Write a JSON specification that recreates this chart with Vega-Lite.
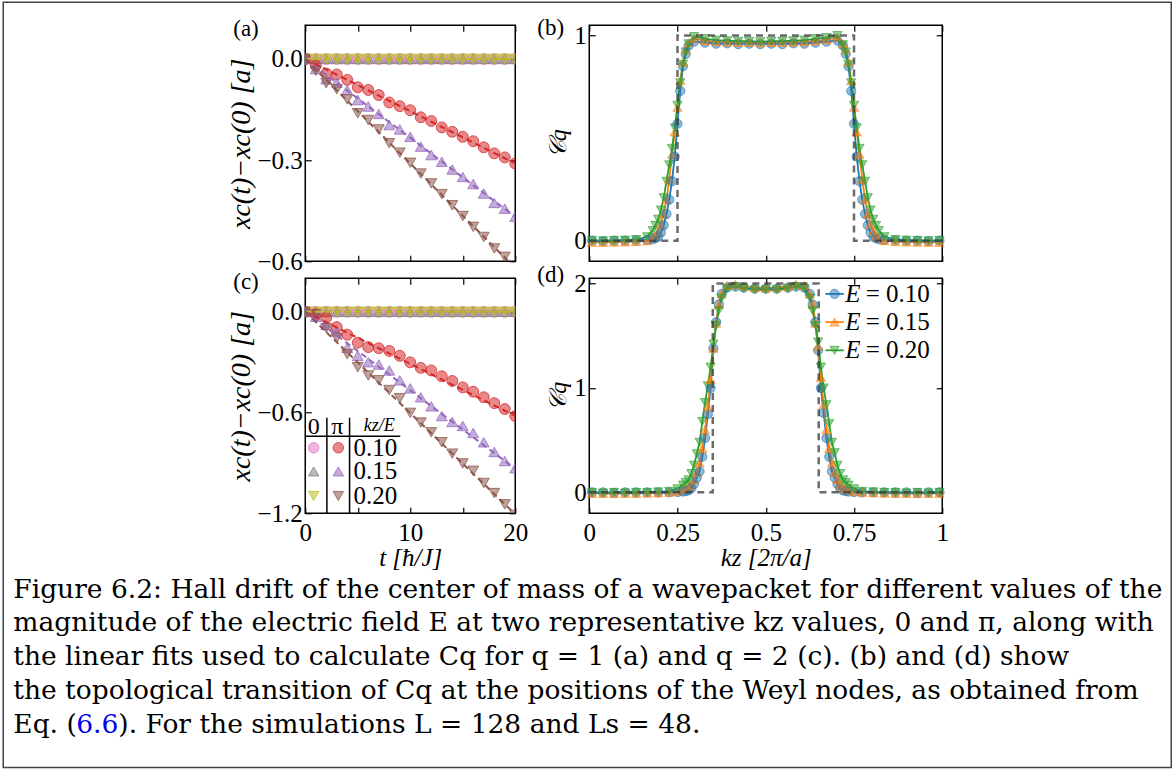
{
  "$schema": "https://vega.github.io/schema/vega-lite/v6.json",
  "background": "white",
  "padding": {"left": 2.25, "top": 1.25, "right": 1, "bottom": 0},
  "columns": 3,
  "align": "none",
  "bounds": "flush",
  "spacing": {"row": 17, "column": 74},
  "resolve": {"scale": {"color": "independent", "stroke": "independent", "shape": "independent"}},
  "config": {
    "font": "Liberation Serif",
    "view": {"stroke": "black", "strokeWidth": 1.5},
    "axis": {
      "labelFont": "Liberation Serif", "labelFontSize": 25, "labelColor": "black",
      "titleFont": "Liberation Serif", "titleColor": "black", "titleFontWeight": "normal",
      "tickColor": "black", "tickWidth": 1.2, "domain": false, "grid": false,
      "labelFlush": false, "labelOverlap": false
    },
    "title": {"font": "Liberation Serif", "fontSize": 23, "fontWeight": "normal", "color": "black", "anchor": "start", "frame": "group"}
  },
  "datasets": {
    "driftQ1": [
      {"t": 0, "z10": 0, "z15": 0, "z20": 0, "p10": 0, "p15": 0, "p20": 0},
      {"t": 1, "z10": 0, "z15": 0, "z20": 0, "p10": -0.02, "p15": -0.03, "p20": -0.035},
      {"t": 2, "z10": 0, "z15": 0, "z20": 0, "p10": -0.043, "p15": -0.06, "p20": -0.072},
      {"t": 3, "z10": 0, "z15": 0, "z20": 0, "p10": -0.046, "p15": -0.07, "p20": -0.09},
      {"t": 4, "z10": 0, "z15": 0, "z20": 0, "p10": -0.062, "p15": -0.092, "p20": -0.12},
      {"t": 5, "z10": 0, "z15": 0, "z20": 0, "p10": -0.084, "p15": -0.122, "p20": -0.161},
      {"t": 6, "z10": 0, "z15": 0, "z20": 0, "p10": -0.092, "p15": -0.141, "p20": -0.181},
      {"t": 7, "z10": 0, "z15": 0, "z20": 0, "p10": -0.107, "p15": -0.163, "p20": -0.209},
      {"t": 8, "z10": 0, "z15": 0, "z20": 0, "p10": -0.129, "p15": -0.196, "p20": -0.25},
      {"t": 9, "z10": 0, "z15": 0, "z20": 0, "p10": -0.14, "p15": -0.209, "p20": -0.278},
      {"t": 10, "z10": 0, "z15": 0, "z20": 0, "p10": -0.152, "p15": -0.231, "p20": -0.308},
      {"t": 11, "z10": 0, "z15": 0, "z20": 0, "p10": -0.173, "p15": -0.26, "p20": -0.34},
      {"t": 12, "z10": 0, "z15": 0, "z20": 0, "p10": -0.184, "p15": -0.285, "p20": -0.369},
      {"t": 13, "z10": 0, "z15": 0, "z20": 0, "p10": -0.203, "p15": -0.305, "p20": -0.401},
      {"t": 14, "z10": 0, "z15": 0, "z20": 0, "p10": -0.216, "p15": -0.328, "p20": -0.434},
      {"t": 15, "z10": 0, "z15": 0, "z20": 0, "p10": -0.231, "p15": -0.35, "p20": -0.466},
      {"t": 16, "z10": 0, "z15": 0, "z20": 0, "p10": -0.244, "p15": -0.371, "p20": -0.498},
      {"t": 17, "z10": 0, "z15": 0, "z20": 0, "p10": -0.262, "p15": -0.399, "p20": -0.528},
      {"t": 18, "z10": 0, "z15": 0, "z20": 0, "p10": -0.28, "p15": -0.427, "p20": -0.562},
      {"t": 19, "z10": 0, "z15": 0, "z20": 0, "p10": -0.292, "p15": -0.444, "p20": -0.587},
      {"t": 20, "z10": 0, "z15": 0, "z20": 0, "p10": -0.31, "p15": -0.468, "p20": -0.62}
    ],
    "driftQ2": [
      {"t": 0, "z10": 0, "z15": 0, "z20": 0, "p10": 0, "p15": 0, "p20": 0},
      {"t": 1, "z10": 0, "z15": 0, "z20": 0, "p10": -0.015, "p15": -0.029, "p20": -0.016},
      {"t": 2, "z10": 0, "z15": 0, "z20": 0, "p10": -0.035, "p15": -0.078, "p20": -0.097},
      {"t": 3, "z10": 0, "z15": 0, "z20": 0, "p10": -0.091, "p15": -0.117, "p20": -0.155},
      {"t": 4, "z10": 0, "z15": 0, "z20": 0, "p10": -0.136, "p15": -0.214, "p20": -0.252},
      {"t": 5, "z10": 0, "z15": 0, "z20": 0, "p10": -0.184, "p15": -0.262, "p20": -0.33},
      {"t": 6, "z10": 0, "z15": 0, "z20": 0, "p10": -0.21, "p15": -0.3, "p20": -0.379},
      {"t": 7, "z10": 0, "z15": 0, "z20": 0, "p10": -0.217, "p15": -0.314, "p20": -0.408},
      {"t": 8, "z10": 0, "z15": 0, "z20": 0, "p10": -0.233, "p15": -0.349, "p20": -0.466},
      {"t": 9, "z10": 0, "z15": 0, "z20": 0, "p10": -0.262, "p15": -0.408, "p20": -0.515},
      {"t": 10, "z10": 0, "z15": 0, "z20": 0, "p10": -0.301, "p15": -0.456, "p20": -0.602},
      {"t": 11, "z10": 0, "z15": 0, "z20": 0, "p10": -0.334, "p15": -0.509, "p20": -0.66},
      {"t": 12, "z10": 0, "z15": 0, "z20": 0, "p10": -0.349, "p15": -0.563, "p20": -0.718},
      {"t": 13, "z10": 0, "z15": 0, "z20": 0, "p10": -0.384, "p15": -0.621, "p20": -0.777},
      {"t": 14, "z10": 0, "z15": 0, "z20": 0, "p10": -0.412, "p15": -0.656, "p20": -0.845},
      {"t": 15, "z10": 0, "z15": 0, "z20": 0, "p10": -0.45, "p15": -0.68, "p20": -0.903},
      {"t": 16, "z10": 0, "z15": 0, "z20": 0, "p10": -0.476, "p15": -0.722, "p20": -0.947},
      {"t": 17, "z10": 0, "z15": 0, "z20": 0, "p10": -0.509, "p15": -0.777, "p20": -1.02},
      {"t": 18, "z10": 0, "z15": 0, "z20": 0, "p10": -0.544, "p15": -0.835, "p20": -1.08},
      {"t": 19, "z10": 0, "z15": 0, "z20": 0, "p10": -0.579, "p15": -0.889, "p20": -1.147},
      {"t": 20, "z10": 0, "z15": 0, "z20": 0, "p10": -0.621, "p15": -0.932, "p20": -1.21}
    ],
    "fitsQ1": [
      {"series": "z10", "t": 0, "x": 0}, {"series": "z10", "t": 20, "x": 0},
      {"series": "z15", "t": 0, "x": 0}, {"series": "z15", "t": 20, "x": 0},
      {"series": "z20", "t": 0, "x": 0}, {"series": "z20", "t": 20, "x": 0},
      {"series": "p10", "t": 0, "x": 0}, {"series": "p10", "t": 20, "x": -0.31},
      {"series": "p15", "t": 0, "x": 0}, {"series": "p15", "t": 20, "x": -0.468},
      {"series": "p20", "t": 0, "x": 0}, {"series": "p20", "t": 20, "x": -0.62}
    ],
    "fitsQ2": [
      {"series": "z10", "t": 0, "x": 0}, {"series": "z10", "t": 20, "x": 0},
      {"series": "z15", "t": 0, "x": 0}, {"series": "z15", "t": 20, "x": 0},
      {"series": "z20", "t": 0, "x": 0}, {"series": "z20", "t": 20, "x": 0},
      {"series": "p10", "t": 0, "x": 0}, {"series": "p10", "t": 20, "x": -0.62},
      {"series": "p15", "t": 0, "x": 0}, {"series": "p15", "t": 20, "x": -0.935},
      {"series": "p20", "t": 0, "x": 0}, {"series": "p20", "t": 20, "x": -1.206}
    ],
    "chernQ1": [
      {"kz": 0.0078, "e10": 0.0, "e15": -0.008, "e20": 0.002},
      {"kz": 0.0391, "e10": -0.002, "e15": -0.008, "e20": 0.0},
      {"kz": 0.0703, "e10": 0.0, "e15": -0.007, "e20": 0.002},
      {"kz": 0.1016, "e10": 0.0, "e15": -0.006, "e20": 0.003},
      {"kz": 0.1328, "e10": 0.002, "e15": -0.004, "e20": 0.006},
      {"kz": 0.1641, "e10": 0.004, "e15": 0.0, "e20": 0.02},
      {"kz": 0.1797, "e10": 0.008, "e15": 0.015, "e20": 0.05},
      {"kz": 0.1875, "e10": 0.012, "e15": 0.025, "e20": 0.075},
      {"kz": 0.1953, "e10": 0.02, "e15": 0.045, "e20": 0.105},
      {"kz": 0.2031, "e10": 0.04, "e15": 0.08, "e20": 0.15},
      {"kz": 0.2109, "e10": 0.075, "e15": 0.13, "e20": 0.21},
      {"kz": 0.2188, "e10": 0.13, "e15": 0.2, "e20": 0.29},
      {"kz": 0.2266, "e10": 0.2, "e15": 0.3, "e20": 0.37},
      {"kz": 0.2344, "e10": 0.29, "e15": 0.42, "e20": 0.45},
      {"kz": 0.2422, "e10": 0.41, "e15": 0.53, "e20": 0.55},
      {"kz": 0.25, "e10": 0.57, "e15": 0.65, "e20": 0.66},
      {"kz": 0.2578, "e10": 0.73, "e15": 0.78, "e20": 0.77},
      {"kz": 0.2656, "e10": 0.85, "e15": 0.87, "e20": 0.86},
      {"kz": 0.2734, "e10": 0.91, "e15": 0.93, "e20": 0.92},
      {"kz": 0.2813, "e10": 0.95, "e15": 0.965, "e20": 0.96},
      {"kz": 0.2969, "e10": 0.97, "e15": 0.985, "e20": 0.995},
      {"kz": 0.3281, "e10": 0.965, "e15": 0.975, "e20": 0.985},
      {"kz": 0.3594, "e10": 0.96, "e15": 0.97, "e20": 0.978},
      {"kz": 0.3906, "e10": 0.962, "e15": 0.968, "e20": 0.975},
      {"kz": 0.4219, "e10": 0.958, "e15": 0.966, "e20": 0.972},
      {"kz": 0.4531, "e10": 0.96, "e15": 0.967, "e20": 0.972},
      {"kz": 0.4844, "e10": 0.958, "e15": 0.965, "e20": 0.97},
      {"kz": 0.5156, "e10": 0.96, "e15": 0.966, "e20": 0.972},
      {"kz": 0.5469, "e10": 0.958, "e15": 0.967, "e20": 0.973},
      {"kz": 0.5781, "e10": 0.962, "e15": 0.968, "e20": 0.975},
      {"kz": 0.6094, "e10": 0.96, "e15": 0.97, "e20": 0.978},
      {"kz": 0.6406, "e10": 0.965, "e15": 0.975, "e20": 0.985},
      {"kz": 0.6719, "e10": 0.97, "e15": 0.98, "e20": 0.99},
      {"kz": 0.7031, "e10": 0.975, "e15": 0.99, "e20": 1.0},
      {"kz": 0.7188, "e10": 0.95, "e15": 0.96, "e20": 0.955},
      {"kz": 0.7266, "e10": 0.91, "e15": 0.93, "e20": 0.92},
      {"kz": 0.7344, "e10": 0.85, "e15": 0.87, "e20": 0.86},
      {"kz": 0.7422, "e10": 0.73, "e15": 0.78, "e20": 0.77},
      {"kz": 0.75, "e10": 0.57, "e15": 0.65, "e20": 0.66},
      {"kz": 0.7578, "e10": 0.41, "e15": 0.53, "e20": 0.55},
      {"kz": 0.7656, "e10": 0.29, "e15": 0.42, "e20": 0.45},
      {"kz": 0.7734, "e10": 0.2, "e15": 0.3, "e20": 0.37},
      {"kz": 0.7813, "e10": 0.13, "e15": 0.2, "e20": 0.29},
      {"kz": 0.7891, "e10": 0.075, "e15": 0.13, "e20": 0.21},
      {"kz": 0.7969, "e10": 0.04, "e15": 0.08, "e20": 0.15},
      {"kz": 0.8047, "e10": 0.02, "e15": 0.045, "e20": 0.105},
      {"kz": 0.8125, "e10": 0.012, "e15": 0.025, "e20": 0.075},
      {"kz": 0.8203, "e10": 0.008, "e15": 0.015, "e20": 0.05},
      {"kz": 0.8359, "e10": 0.004, "e15": 0.0, "e20": 0.02},
      {"kz": 0.8672, "e10": 0.002, "e15": -0.004, "e20": 0.006},
      {"kz": 0.8984, "e10": 0.0, "e15": -0.006, "e20": 0.003},
      {"kz": 0.9297, "e10": 0.0, "e15": -0.007, "e20": 0.002},
      {"kz": 0.9609, "e10": -0.002, "e15": -0.008, "e20": 0.0},
      {"kz": 0.9922, "e10": 0.0, "e15": -0.008, "e20": 0.002}
    ],
    "chernQ2": [
      {"kz": 0.0078, "e10": 0.0, "e15": -0.01, "e20": 0.0},
      {"kz": 0.0391, "e10": 0.0, "e15": -0.01, "e20": -0.005},
      {"kz": 0.0703, "e10": -0.005, "e15": -0.012, "e20": 0.0},
      {"kz": 0.1016, "e10": 0.0, "e15": -0.01, "e20": -0.005},
      {"kz": 0.1328, "e10": 0.0, "e15": -0.01, "e20": 0.0},
      {"kz": 0.1641, "e10": 0.0, "e15": -0.008, "e20": 0.0},
      {"kz": 0.1953, "e10": 0.0, "e15": -0.005, "e20": 0.005},
      {"kz": 0.2266, "e10": 0.0, "e15": 0.0, "e20": 0.01},
      {"kz": 0.25, "e10": 0.003, "e15": 0.01, "e20": 0.035},
      {"kz": 0.2656, "e10": 0.008, "e15": 0.025, "e20": 0.07},
      {"kz": 0.2734, "e10": 0.012, "e15": 0.035, "e20": 0.095},
      {"kz": 0.2813, "e10": 0.02, "e15": 0.05, "e20": 0.12},
      {"kz": 0.2891, "e10": 0.04, "e15": 0.07, "e20": 0.18},
      {"kz": 0.2969, "e10": 0.08, "e15": 0.12, "e20": 0.26},
      {"kz": 0.3047, "e10": 0.14, "e15": 0.19, "e20": 0.37},
      {"kz": 0.3125, "e10": 0.2, "e15": 0.28, "e20": 0.48},
      {"kz": 0.3203, "e10": 0.34, "e15": 0.42, "e20": 0.68},
      {"kz": 0.3281, "e10": 0.52, "e15": 0.6, "e20": 0.86},
      {"kz": 0.3359, "e10": 0.75, "e15": 0.82, "e20": 1.02},
      {"kz": 0.3438, "e10": 1.0, "e15": 1.08, "e20": 1.2},
      {"kz": 0.3516, "e10": 1.38, "e15": 1.38, "e20": 1.42},
      {"kz": 0.3594, "e10": 1.63, "e15": 1.62, "e20": 1.6},
      {"kz": 0.3672, "e10": 1.8, "e15": 1.8, "e20": 1.74},
      {"kz": 0.375, "e10": 1.9, "e15": 1.9, "e20": 1.86},
      {"kz": 0.3906, "e10": 1.96, "e15": 1.98, "e20": 1.95},
      {"kz": 0.4141, "e10": 1.97, "e15": 1.99, "e20": 1.97},
      {"kz": 0.4375, "e10": 1.96, "e15": 1.97, "e20": 1.95},
      {"kz": 0.4688, "e10": 1.95, "e15": 1.96, "e20": 1.94},
      {"kz": 0.5, "e10": 1.95, "e15": 1.955, "e20": 1.94},
      {"kz": 0.5313, "e10": 1.95, "e15": 1.96, "e20": 1.94},
      {"kz": 0.5625, "e10": 1.96, "e15": 1.97, "e20": 1.95},
      {"kz": 0.5859, "e10": 1.97, "e15": 1.99, "e20": 1.97},
      {"kz": 0.6094, "e10": 1.96, "e15": 1.98, "e20": 1.95},
      {"kz": 0.625, "e10": 1.9, "e15": 1.9, "e20": 1.86},
      {"kz": 0.6328, "e10": 1.8, "e15": 1.8, "e20": 1.74},
      {"kz": 0.6406, "e10": 1.63, "e15": 1.62, "e20": 1.6},
      {"kz": 0.6484, "e10": 1.36, "e15": 1.4, "e20": 1.44},
      {"kz": 0.6563, "e10": 1.0, "e15": 1.1, "e20": 1.2},
      {"kz": 0.6641, "e10": 0.76, "e15": 0.84, "e20": 1.0},
      {"kz": 0.6719, "e10": 0.52, "e15": 0.6, "e20": 0.84},
      {"kz": 0.6797, "e10": 0.34, "e15": 0.42, "e20": 0.66},
      {"kz": 0.6875, "e10": 0.2, "e15": 0.28, "e20": 0.48},
      {"kz": 0.6953, "e10": 0.14, "e15": 0.19, "e20": 0.38},
      {"kz": 0.7031, "e10": 0.08, "e15": 0.12, "e20": 0.26},
      {"kz": 0.7109, "e10": 0.04, "e15": 0.07, "e20": 0.18},
      {"kz": 0.7188, "e10": 0.02, "e15": 0.05, "e20": 0.12},
      {"kz": 0.7266, "e10": 0.012, "e15": 0.035, "e20": 0.095},
      {"kz": 0.7344, "e10": 0.008, "e15": 0.025, "e20": 0.07},
      {"kz": 0.75, "e10": 0.003, "e15": 0.01, "e20": 0.035},
      {"kz": 0.7734, "e10": 0.0, "e15": 0.0, "e20": 0.01},
      {"kz": 0.8047, "e10": 0.0, "e15": -0.005, "e20": 0.005},
      {"kz": 0.8359, "e10": 0.0, "e15": -0.008, "e20": 0.0},
      {"kz": 0.8672, "e10": 0.0, "e15": -0.01, "e20": 0.0},
      {"kz": 0.8984, "e10": 0.0, "e15": -0.01, "e20": -0.005},
      {"kz": 0.9297, "e10": -0.005, "e15": -0.012, "e20": 0.0},
      {"kz": 0.9609, "e10": 0.0, "e15": -0.01, "e20": -0.005},
      {"kz": 0.9922, "e10": 0.0, "e15": -0.01, "e20": 0.0}
    ],
    "stepQ1": [
      {"i": 0, "kz": 0, "C": 0}, {"i": 1, "kz": 0.25, "C": 0}, {"i": 2, "kz": 0.25, "C": 1},
      {"i": 3, "kz": 0.75, "C": 1}, {"i": 4, "kz": 0.75, "C": 0}, {"i": 5, "kz": 1, "C": 0}
    ],
    "stepQ2": [
      {"i": 0, "kz": 0, "C": 0}, {"i": 1, "kz": 0.35, "C": 0}, {"i": 2, "kz": 0.35, "C": 2},
      {"i": 3, "kz": 0.65, "C": 2}, {"i": 4, "kz": 0.65, "C": 0}, {"i": 5, "kz": 1, "C": 0}
    ]
  },
  "concat": [
    {"width": 228, "height": 236, "view": {"stroke": null}, "data": {"values": []}, "mark": "point"},
    {
      "width": 210, "height": 236,
      "title": {"text": "(a)", "dx": -72, "offset": -16},
      "resolve": {"axis": {"x": "independent", "y": "independent"}},
      "layer": [
        {
          "data": {"values": [{"t": 0, "x": 0}]},
          "mark": {"type": "point", "opacity": 0},
          "encoding": {
            "x": {"field": "t", "type": "quantitative", "scale": {"domain": [0, 20], "nice": false, "zero": false},
                  "axis": {"orient": "top", "values": [0, 5, 10, 15, 20], "labels": false, "tickSize": -6, "title": null}},
            "y": {"field": "x", "type": "quantitative", "scale": {"domain": [-0.6, 0.1], "nice": false, "zero": false},
                  "axis": {"orient": "right", "values": [-0.6, -0.3, 0], "labels": false, "tickSize": -6, "title": null}}
          }
        },
        {
          "data": {"name": "driftQ1"},
          "transform": [{"fold": ["z10", "z15", "z20", "p10", "p15", "p20"], "as": ["series", "x"]}],
          "mark": {"type": "point", "filled": true, "size": 120, "opacity": 1, "fillOpacity": 0.55, "strokeOpacity": 0.75, "strokeWidth": 1, "clip": true},
          "encoding": {
            "x": {"field": "t", "type": "quantitative", "axis": null},
            "y": {"field": "x", "type": "quantitative", "axis": null},
            "color": {"field": "series", "type": "nominal", "legend": null,
                      "scale": {"domain": ["z10", "z15", "z20", "p10", "p15", "p20"], "range": ["#e377c2", "#7f7f7f", "#bcbd22", "#d62728", "#9467bd", "#8c564b"]}},
            "stroke": {"field": "series", "type": "nominal", "legend": null,
                       "scale": {"domain": ["z10", "z15", "z20", "p10", "p15", "p20"], "range": ["#e377c2", "#7f7f7f", "#bcbd22", "#d62728", "#9467bd", "#8c564b"]}},
            "shape": {"field": "series", "type": "nominal", "legend": null,
                      "scale": {"domain": ["z10", "z15", "z20", "p10", "p15", "p20"], "range": ["circle", "triangle-up", "triangle-down", "circle", "triangle-up", "triangle-down"]}}
          }
        },
        {
          "data": {"name": "fitsQ1"},
          "mark": {"type": "line", "strokeDash": [6, 4], "strokeWidth": 2, "clip": true},
          "encoding": {
            "x": {"field": "t", "type": "quantitative",
                  "axis": {"orient": "bottom", "values": [0, 5, 10, 15, 20], "labels": false, "tickSize": -6, "title": null}},
            "y": {"field": "x", "type": "quantitative",
                  "axis": {"orient": "left", "values": [-0.6, -0.3, 0], "format": ".1f", "tickSize": -6, "labelPadding": 9,
                           "title": "xc(t)−xc(0) [a]", "titleFontStyle": "italic", "titleFontSize": 28, "titlePadding": 1}},
            "color": {"field": "series", "type": "nominal", "legend": null}
          }
        }
      ]
    },
    {
      "width": 353, "height": 236,
      "title": {"text": "(b)", "dx": -52, "offset": -16},
      "resolve": {"axis": {"x": "independent", "y": "independent"}},
      "layer": [
        {
          "data": {"values": [{"kz": 0, "C": 0}]},
          "mark": {"type": "point", "opacity": 0},
          "encoding": {
            "x": {"field": "kz", "type": "quantitative", "scale": {"domain": [0, 1], "nice": false, "zero": false},
                  "axis": {"orient": "top", "values": [0, 0.25, 0.5, 0.75, 1], "labels": false, "tickSize": -6, "title": null}},
            "y": {"field": "C", "type": "quantitative", "scale": {"domain": [-0.1, 1.05], "nice": false, "zero": false},
                  "axis": {"orient": "right", "values": [0, 1], "labels": false, "tickSize": -6, "title": null}}
          }
        },
        {
          "data": {"name": "chernQ1"},
          "transform": [{"fold": ["e10", "e15", "e20"], "as": ["series", "C"]}],
          "mark": {"type": "line", "strokeWidth": 1.8},
          "encoding": {
            "x": {"field": "kz", "type": "quantitative",
                  "axis": {"orient": "bottom", "values": [0, 0.25, 0.5, 0.75, 1], "labels": false, "tickSize": -6, "title": null}},
            "y": {"field": "C", "type": "quantitative",
                  "axis": {"orient": "left", "values": [0, 1], "format": "d", "tickSize": -6, "labelPadding": 9,
                           "title": "𝒞q", "titleFontStyle": "italic", "titleFontSize": 24, "titlePadding": 3}},
            "color": {"field": "series", "type": "nominal", "legend": null,
                      "scale": {"domain": ["e10", "e15", "e20"], "range": ["#1f77b4", "#ff7f0e", "#2ca02c"]}}
          }
        },
        {
          "data": {"name": "chernQ1"},
          "transform": [{"fold": ["e10", "e15", "e20"], "as": ["series", "C"]}],
          "mark": {"type": "point", "filled": true, "size": 85, "opacity": 1, "fillOpacity": 0.5, "strokeOpacity": 0.6, "strokeWidth": 1},
          "encoding": {
            "x": {"field": "kz", "type": "quantitative", "axis": null},
            "y": {"field": "C", "type": "quantitative", "axis": null},
            "color": {"field": "series", "type": "nominal", "legend": null},
            "stroke": {"field": "series", "type": "nominal", "legend": null,
                       "scale": {"domain": ["e10", "e15", "e20"], "range": ["#1f77b4", "#ff7f0e", "#2ca02c"]}},
            "shape": {"field": "series", "type": "nominal", "legend": null,
                      "scale": {"domain": ["e10", "e15", "e20"], "range": ["circle", "triangle-up", "triangle-down"]}}
          }
        },
        {
          "data": {"name": "stepQ1"},
          "mark": {"type": "line", "color": "#3a3a3a", "opacity": 0.75, "strokeDash": [7, 5], "strokeWidth": 2.5},
          "encoding": {
            "x": {"field": "kz", "type": "quantitative", "axis": null},
            "y": {"field": "C", "type": "quantitative", "axis": null},
            "order": {"field": "i"}
          }
        }
      ]
    },
    {"width": 228, "height": 235, "view": {"stroke": null}, "data": {"values": []}, "mark": "point"},
    {
      "width": 210, "height": 235,
      "title": {"text": "(c)", "dx": -72, "offset": -16},
      "resolve": {"axis": {"x": "independent", "y": "independent"}},
      "layer": [
        {
          "data": {"values": [{"t": 0, "x": 0}]},
          "mark": {"type": "point", "opacity": 0},
          "encoding": {
            "x": {"field": "t", "type": "quantitative", "scale": {"domain": [0, 20], "nice": false, "zero": false},
                  "axis": {"orient": "top", "values": [0, 5, 10, 15, 20], "labels": false, "tickSize": -6, "title": null}},
            "y": {"field": "x", "type": "quantitative", "scale": {"domain": [-1.2, 0.2], "nice": false, "zero": false},
                  "axis": {"orient": "right", "values": [-1.2, -0.6, 0], "labels": false, "tickSize": -6, "title": null}}
          }
        },
        {
          "data": {"name": "driftQ2"},
          "transform": [{"fold": ["z10", "z15", "z20", "p10", "p15", "p20"], "as": ["series", "x"]}],
          "mark": {"type": "point", "filled": true, "size": 120, "opacity": 1, "fillOpacity": 0.55, "strokeOpacity": 0.75, "strokeWidth": 1, "clip": true},
          "encoding": {
            "x": {"field": "t", "type": "quantitative", "axis": null},
            "y": {"field": "x", "type": "quantitative", "axis": null},
            "color": {"field": "series", "type": "nominal", "legend": null,
                      "scale": {"domain": ["z10", "z15", "z20", "p10", "p15", "p20"], "range": ["#e377c2", "#7f7f7f", "#bcbd22", "#d62728", "#9467bd", "#8c564b"]}},
            "stroke": {"field": "series", "type": "nominal", "legend": null,
                       "scale": {"domain": ["z10", "z15", "z20", "p10", "p15", "p20"], "range": ["#e377c2", "#7f7f7f", "#bcbd22", "#d62728", "#9467bd", "#8c564b"]}},
            "shape": {"field": "series", "type": "nominal", "legend": null,
                      "scale": {"domain": ["z10", "z15", "z20", "p10", "p15", "p20"], "range": ["circle", "triangle-up", "triangle-down", "circle", "triangle-up", "triangle-down"]}}
          }
        },
        {
          "data": {"name": "fitsQ2"},
          "mark": {"type": "line", "strokeDash": [6, 4], "strokeWidth": 2, "clip": true},
          "encoding": {
            "x": {"field": "t", "type": "quantitative",
                  "axis": {"orient": "bottom", "values": [0, 5, 10, 15, 20], "tickSize": -6, "labelPadding": 13,
                           "labelExpr": "datum.value % 10 === 0 ? datum.label : ''",
                           "title": "t [ħ/J]", "titleFontStyle": "italic", "titleFontSize": 25, "titlePadding": 0}},
            "y": {"field": "x", "type": "quantitative",
                  "axis": {"orient": "left", "values": [-1.2, -0.6, 0], "format": ".1f", "tickSize": -6, "labelPadding": 9,
                           "title": "xc(t)−xc(0) [a]", "titleFontStyle": "italic", "titleFontSize": 28, "titlePadding": 1}},
            "color": {"field": "series", "type": "nominal", "legend": null}
          }
        },
        {
          "data": {"values": [
            {"t": 2.06, "x": -0.631, "t2": 2.06, "x2": -1.2},
            {"t": 4.22, "x": -0.631, "t2": 4.22, "x2": -1.2},
            {"t": 0, "x": -0.741, "t2": 9.05, "x2": -0.741}
          ]},
          "mark": {"type": "rule", "color": "black", "strokeWidth": 1.5},
          "encoding": {
            "x": {"field": "t", "type": "quantitative", "axis": null},
            "y": {"field": "x", "type": "quantitative", "axis": null},
            "x2": {"field": "t2"},
            "y2": {"field": "x2"}
          }
        },
        {
          "data": {"values": [
            {"t": 0.8, "x": -0.81, "series": "z10"},
            {"t": 0.8, "x": -0.951, "series": "z15"},
            {"t": 0.8, "x": -1.097, "series": "z20"},
            {"t": 3.15, "x": -0.81, "series": "p10"},
            {"t": 3.15, "x": -0.951, "series": "p15"},
            {"t": 3.15, "x": -1.097, "series": "p20"}
          ]},
          "mark": {"type": "point", "filled": true, "size": 110, "opacity": 1, "fillOpacity": 0.55, "strokeOpacity": 0.75, "strokeWidth": 1},
          "encoding": {
            "x": {"field": "t", "type": "quantitative", "axis": null},
            "y": {"field": "x", "type": "quantitative", "axis": null},
            "color": {"field": "series", "type": "nominal", "legend": null},
            "stroke": {"field": "series", "type": "nominal", "legend": null},
            "shape": {"field": "series", "type": "nominal", "legend": null}
          }
        },
        {
          "data": {"values": [
            {"t": 0.8, "x": -0.685, "label": "0"},
            {"t": 3.05, "x": -0.685, "label": "π"}
          ]},
          "mark": {"type": "text", "fontSize": 24, "align": "center", "baseline": "middle", "color": "black"},
          "encoding": {
            "x": {"field": "t", "type": "quantitative", "axis": null},
            "y": {"field": "x", "type": "quantitative", "axis": null},
            "text": {"field": "label"}
          }
        },
        {
          "data": {"values": [
            {"t": 7.05, "x": -0.68, "label": "kz/E"}
          ]},
          "mark": {"type": "text", "fontSize": 18, "fontStyle": "italic", "align": "center", "baseline": "middle", "color": "black"},
          "encoding": {
            "x": {"field": "t", "type": "quantitative", "axis": null},
            "y": {"field": "x", "type": "quantitative", "axis": null},
            "text": {"field": "label"}
          }
        },
        {
          "data": {"values": [
            {"t": 4.6, "x": -0.81, "label": "0.10"},
            {"t": 4.6, "x": -0.951, "label": "0.15"},
            {"t": 4.6, "x": -1.097, "label": "0.20"}
          ]},
          "mark": {"type": "text", "fontSize": 25, "align": "left", "baseline": "middle", "color": "black"},
          "encoding": {
            "x": {"field": "t", "type": "quantitative", "axis": null},
            "y": {"field": "x", "type": "quantitative", "axis": null},
            "text": {"field": "label"}
          }
        }
      ]
    },
    {
      "width": 353, "height": 235,
      "title": {"text": "(d)", "dx": -52, "offset": -16},
      "resolve": {"axis": {"x": "independent", "y": "independent"}},
      "layer": [
        {
          "data": {"values": [{"kz": 0, "C": 0}]},
          "mark": {"type": "point", "opacity": 0},
          "encoding": {
            "x": {"field": "kz", "type": "quantitative", "scale": {"domain": [0, 1], "nice": false, "zero": false},
                  "axis": {"orient": "top", "values": [0, 0.25, 0.5, 0.75, 1], "labels": false, "tickSize": -6, "title": null}},
            "y": {"field": "C", "type": "quantitative", "scale": {"domain": [-0.2, 2.05], "nice": false, "zero": false},
                  "axis": {"orient": "right", "values": [0, 1, 2], "labels": false, "tickSize": -6, "title": null}}
          }
        },
        {
          "data": {"name": "chernQ2"},
          "transform": [{"fold": ["e10", "e15", "e20"], "as": ["series", "C"]}],
          "mark": {"type": "line", "strokeWidth": 1.8},
          "encoding": {
            "x": {"field": "kz", "type": "quantitative",
                  "axis": {"orient": "bottom", "values": [0, 0.25, 0.5, 0.75, 1], "tickSize": -6, "labelPadding": 13,
                           "labelExpr": "'' + datum.value",
                           "title": "kz [2π/a]", "titleFontStyle": "italic", "titleFontSize": 25, "titlePadding": 0}},
            "y": {"field": "C", "type": "quantitative",
                  "axis": {"orient": "left", "values": [0, 1, 2], "format": "d", "tickSize": -6, "labelPadding": 9,
                           "title": "𝒞q", "titleFontStyle": "italic", "titleFontSize": 24, "titlePadding": 3}},
            "color": {"field": "series", "type": "nominal", "legend": null,
                      "scale": {"domain": ["e10", "e15", "e20"], "range": ["#1f77b4", "#ff7f0e", "#2ca02c"]}}
          }
        },
        {
          "data": {"name": "chernQ2"},
          "transform": [{"fold": ["e10", "e15", "e20"], "as": ["series", "C"]}],
          "mark": {"type": "point", "filled": true, "size": 85, "opacity": 1, "fillOpacity": 0.5, "strokeOpacity": 0.6, "strokeWidth": 1},
          "encoding": {
            "x": {"field": "kz", "type": "quantitative", "axis": null},
            "y": {"field": "C", "type": "quantitative", "axis": null},
            "color": {"field": "series", "type": "nominal", "legend": null},
            "stroke": {"field": "series", "type": "nominal", "legend": null,
                       "scale": {"domain": ["e10", "e15", "e20"], "range": ["#1f77b4", "#ff7f0e", "#2ca02c"]}},
            "shape": {"field": "series", "type": "nominal", "legend": null,
                      "scale": {"domain": ["e10", "e15", "e20"], "range": ["circle", "triangle-up", "triangle-down"]}}
          }
        },
        {
          "data": {"name": "stepQ2"},
          "mark": {"type": "line", "color": "#3a3a3a", "opacity": 0.75, "strokeDash": [7, 5], "strokeWidth": 2.5},
          "encoding": {
            "x": {"field": "kz", "type": "quantitative", "axis": null},
            "y": {"field": "C", "type": "quantitative", "axis": null},
            "order": {"field": "i"}
          }
        },
        {
          "data": {"values": [
            {"series": "e10", "k0": 0.669, "k1": 0.721, "C": 1.9},
            {"series": "e15", "k0": 0.669, "k1": 0.721, "C": 1.63},
            {"series": "e20", "k0": 0.669, "k1": 0.721, "C": 1.36}
          ]},
          "mark": {"type": "rule", "strokeWidth": 1.8},
          "encoding": {
            "x": {"field": "k0", "type": "quantitative", "axis": null},
            "x2": {"field": "k1"},
            "y": {"field": "C", "type": "quantitative", "axis": null},
            "color": {"field": "series", "type": "nominal", "legend": null}
          }
        },
        {
          "data": {"values": [
            {"series": "e10", "kz": 0.695, "C": 1.9},
            {"series": "e15", "kz": 0.695, "C": 1.63},
            {"series": "e20", "kz": 0.695, "C": 1.36}
          ]},
          "mark": {"type": "point", "filled": true, "size": 85, "opacity": 1, "fillOpacity": 0.5, "strokeOpacity": 0.6, "strokeWidth": 1},
          "encoding": {
            "x": {"field": "kz", "type": "quantitative", "axis": null},
            "y": {"field": "C", "type": "quantitative", "axis": null},
            "color": {"field": "series", "type": "nominal", "legend": null},
            "stroke": {"field": "series", "type": "nominal", "legend": null},
            "shape": {"field": "series", "type": "nominal", "legend": null}
          }
        },
        {
          "data": {"values": [
            {"kz": 0.725, "C": 1.9, "label": "E"},
            {"kz": 0.725, "C": 1.63, "label": "E"},
            {"kz": 0.725, "C": 1.36, "label": "E"}
          ]},
          "mark": {"type": "text", "fontSize": 25, "fontStyle": "italic", "align": "left", "baseline": "middle", "color": "black"},
          "encoding": {
            "x": {"field": "kz", "type": "quantitative", "axis": null},
            "y": {"field": "C", "type": "quantitative", "axis": null},
            "text": {"field": "label"}
          }
        },
        {
          "data": {"values": [
            {"kz": 0.783, "C": 1.9, "label": "= 0.10"},
            {"kz": 0.783, "C": 1.63, "label": "= 0.15"},
            {"kz": 0.783, "C": 1.36, "label": "= 0.20"}
          ]},
          "mark": {"type": "text", "fontSize": 25, "align": "left", "baseline": "middle", "color": "black"},
          "encoding": {
            "x": {"field": "kz", "type": "quantitative", "axis": null},
            "y": {"field": "C", "type": "quantitative", "axis": null},
            "text": {"field": "label"}
          }
        }
      ]
    },
    {
      "width": 228, "height": 236,
      "view": {"stroke": null},
      "layer": [
        {
          "data": {"values": [{"x0": 0, "x1": 1, "y0": -16.66, "y1": 6.04}]},
          "mark": {"type": "rect", "fillOpacity": 0, "stroke": "#444444", "strokeWidth": 1.5},
          "encoding": {
            "x": {"field": "x0", "type": "quantitative", "scale": {"domain": [0, 0.19521], "nice": false, "zero": false}, "axis": null},
            "x2": {"field": "x1"},
            "y": {"field": "y0", "type": "quantitative", "scale": {"domain": [-1, 6], "nice": false, "zero": false, "reverse": true}, "axis": null},
            "y2": {"field": "y1"}
          }
        },
        {
          "data": {"values": [
            {"line": 1, "text": "Figure 6.2: Hall drift of the center of mass of a wavepacket for different values of the"},
            {"line": 2, "text": "magnitude of the electric field E at two representative kz values, 0 and π, along with"},
            {"line": 3, "text": "the linear fits used to calculate Cq for q = 1 (a) and q = 2 (c).  (b) and (d) show"},
            {"line": 4, "text": "the topological transition of Cq at the positions of the Weyl nodes, as obtained from"},
            {"line": 5, "text": "Eq. ("}
          ]},
          "mark": {"type": "text", "font": "DejaVu Serif", "fontSize": 26.5, "align": "left", "baseline": "alphabetic", "color": "black"},
          "encoding": {
            "x": {"datum": 0.0086, "type": "quantitative"},
            "y": {"field": "line", "type": "quantitative"},
            "text": {"field": "text"}
          }
        },
        {
          "data": {"values": [{"line": 5, "text": "6.6"}]},
          "mark": {"type": "text", "font": "DejaVu Serif", "fontSize": 26.5, "align": "left", "baseline": "alphabetic", "color": "#0000ee"},
          "encoding": {
            "x": {"datum": 0.0625, "type": "quantitative"},
            "y": {"field": "line", "type": "quantitative"},
            "text": {"field": "text"}
          }
        },
        {
          "data": {"values": [{"line": 5, "text": "). For the simulations L = 128 and Ls = 48."}]},
          "mark": {"type": "text", "font": "DejaVu Serif", "fontSize": 26.5, "align": "left", "baseline": "alphabetic", "color": "black"},
          "encoding": {
            "x": {"datum": 0.0985, "type": "quantitative"},
            "y": {"field": "line", "type": "quantitative"},
            "text": {"field": "text"}
          }
        }
      ]
    }
  ]
}
